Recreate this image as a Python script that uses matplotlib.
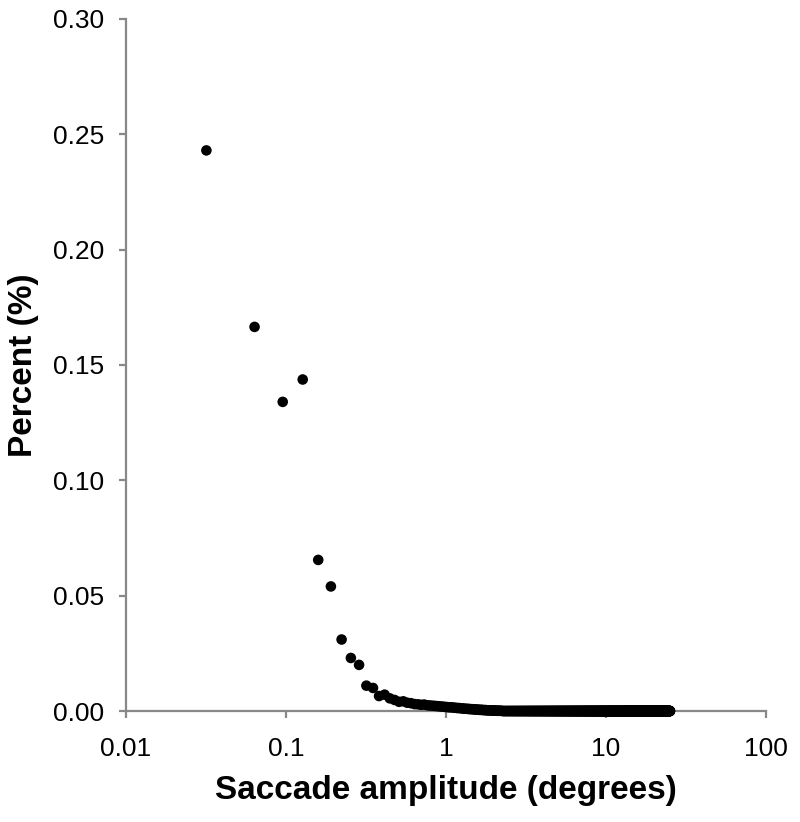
import numpy as np
import matplotlib.pyplot as plt

plt.rcParams['font.family'] = ['Liberation Sans', 'DejaVu Sans']

# Saccade amplitude histogram: fixed-width bins (degrees)
BIN_WIDTH = 0.0318
N_BINS = 790

# Percent per bin (first bins), rest ~0
percent_head = [
    0.243, 0.1665, 0.134, 0.1437, 0.0655, 0.054, 0.031, 0.023, 0.020, 0.011,
    0.010, 0.0065, 0.0071, 0.0055, 0.0048, 0.0040, 0.0042, 0.0036, 0.0034, 0.0030,
    0.0029, 0.0027, 0.0028, 0.0025, 0.0024, 0.0023, 0.0022, 0.0021, 0.0020, 0.0019,
    0.0018, 0.0017, 0.0016, 0.0016, 0.0015, 0.0014, 0.0013, 0.0013, 0.0012, 0.0011,
    0.0010, 0.0010, 0.0009, 0.0009, 0.0008, 0.0008, 0.0007, 0.0007, 0.0006, 0.0006,
    0.0005, 0.0005, 0.0005, 0.0004, 0.0004, 0.0004, 0.0003, 0.0003, 0.0003, 0.0003,
    0.0002, 0.0002, 0.0002, 0.0002, 0.0002, 0.0001, 0.0001, 0.0001, 0.0001, 0.0001,
]
percent_tail = [0.0] * (N_BINS - len(percent_head))
percent = np.array(percent_head + percent_tail)
amplitude = BIN_WIDTH * np.arange(1, N_BINS + 1)

x_ticks = [0.01, 0.1, 1, 10, 100]
x_tick_labels = ['0.01', '0.1', '1', '10', '100']
y_ticks = [0.00, 0.05, 0.10, 0.15, 0.20, 0.25, 0.30]

axis_gray = '#888888'

fig = plt.figure(figsize=(8, 8.22), dpi=100)
ax = fig.add_axes([0.1575, 0.135, 0.8, 0.842])

ax.scatter(amplitude, percent, s=58, color='black', edgecolors='none', zorder=3,
           clip_on=False)

ax.set_xscale('log')
ax.set_xlim(0.01, 100)
ax.set_ylim(0, 0.30)
ax.set_xticks(x_ticks)
ax.set_xticklabels(x_tick_labels)
ax.xaxis.set_minor_locator(plt.NullLocator())
ax.set_yticks(y_ticks)
ax.set_yticklabels([f'{v:.2f}' for v in y_ticks])

for side in ['top', 'right']:
    ax.spines[side].set_visible(False)
for side in ['left', 'bottom']:
    ax.spines[side].set_color(axis_gray)
    ax.spines[side].set_linewidth(1.6)

ax.tick_params(axis='both', direction='out', length=5, width=1.6, color=axis_gray,
               labelsize=19, labelcolor='black')
ax.tick_params(axis='y', pad=11)
ax.tick_params(axis='x', pad=14)

ax.set_xlabel('Saccade amplitude (degrees)', fontsize=24, fontweight='bold', labelpad=10)
ax.set_ylabel('Percent (%)', fontsize=24, fontweight='bold', labelpad=10)

plt.savefig('out.png', dpi=100)
plt.close()
